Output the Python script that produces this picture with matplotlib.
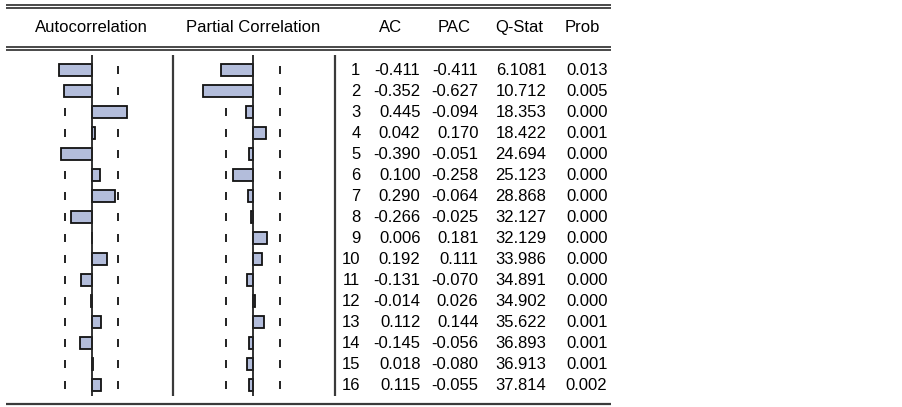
import matplotlib
matplotlib.use('Agg')
import matplotlib.pyplot as plt

plt.rcParams['font.family'] = ['Liberation Sans', 'DejaVu Sans']

# correlogram values
lags = list(range(1, 17))
ac = [-0.411, -0.352, 0.445, 0.042, -0.390, 0.100, 0.290, -0.266,
      0.006, 0.192, -0.131, -0.014, 0.112, -0.145, 0.018, 0.115]
pac = [-0.411, -0.627, -0.094, 0.170, -0.051, -0.258, -0.064, -0.025,
       0.181, 0.111, -0.070, 0.026, 0.144, -0.056, -0.080, -0.055]
qstat = ['6.1081', '10.712', '18.353', '18.422', '24.694', '25.123', '28.868', '32.127',
         '32.129', '33.986', '34.891', '34.902', '35.622', '36.893', '36.913', '37.814']
prob = ['0.013', '0.005', '0.000', '0.001', '0.000', '0.000', '0.000', '0.000',
        '0.000', '0.000', '0.000', '0.000', '0.001', '0.001', '0.001', '0.002']
band = 0.338  # approx 2/sqrt(T)
headers = ['AC', 'PAC', 'Q-Stat', 'Prob']

W, H = 903, 407
fig = plt.figure(figsize=(W / 100, H / 100), dpi=100)

def box(x0, x1, y0, y1):
    # pixel box -> figure fraction rect
    return [x0 / W, 1 - y1 / H, (x1 - x0) / W, (y1 - y0) / H]

lay = fig.add_axes([0, 0, 1, 1])
lay.set_xlim(0, W)
lay.set_ylim(H, 0)
lay.axis('off')

line_col = '#3a3a3a'
for yy in (4.8, 7.9, 46.9, 50.0):
    lay.plot([6.5, 611.5], [yy, yy], color=line_col, lw=1.3, solid_capstyle='butt')
lay.plot([6.5, 611.5], [404, 404], color=line_col, lw=1.6, solid_capstyle='butt')

fs = 12
lay.text(91.5, 27.5, 'Autocorrelation', ha='center', va='center', fontsize=fs)
lay.text(253, 27.5, 'Partial Correlation', ha='center', va='center', fontsize=fs)
for xx, h in zip([391, 454, 519, 582], headers):
    lay.text(xx, 27.5, h, ha='center', va='center', fontsize=fs)

# rows: lag 1 centred at y=70px, 21px per lag
row_top, row_bot = 0.3, 16.5
y_top_px = 70 + (row_top - 1) * 21
y_bot_px = 70 + (row_bot - 1) * 21

for xs in (173.5, 335):
    lay.plot([xs, xs], [y_top_px, y_bot_px], color=line_col, lw=1.6, solid_capstyle='butt')

scale = 79.0
fill = '#b3bddb'

def panel(zero_px, vals):
    ax = fig.add_axes(box(zero_px - scale, zero_px + scale, y_top_px, y_bot_px))
    ax.set_xlim(-1, 1)
    ax.set_ylim(row_bot, row_top)
    ax.axis('off')
    ax.patch.set_alpha(0)
    for s in (-band, band):
        ax.vlines([s] * len(lags), [l - 0.19 for l in lags], [l + 0.19 for l in lags],
                  color='#222222', lw=1.4, zorder=1)
    ax.barh(lags, vals, height=0.53, color=fill, edgecolor='#111111', lw=1.3, zorder=2)
    ax.plot([0, 0], [row_top, row_bot], color='#222222', lw=1.3, zorder=3,
            solid_capstyle='butt')
    return ax

panel(91.7, ac)
panel(253.0, pac)

tab = fig.add_axes(box(0, W, y_top_px, y_bot_px))
tab.set_xlim(0, W)
tab.set_ylim(row_bot, row_top)
tab.axis('off')
tab.patch.set_alpha(0)
for i, l in enumerate(lags):
    yy = l + 0.03
    tab.text(360.5, yy, str(l), ha='right', va='center', fontsize=fs)
    tab.text(420.5, yy, f'{ac[i]:.3f}', ha='right', va='center', fontsize=fs)
    tab.text(478.5, yy, f'{pac[i]:.3f}', ha='right', va='center', fontsize=fs)
    tab.text(546.5, yy, qstat[i], ha='right', va='center', fontsize=fs)
    tab.text(607.5, yy, prob[i], ha='right', va='center', fontsize=fs)

fig.savefig('out.png', dpi=100)
